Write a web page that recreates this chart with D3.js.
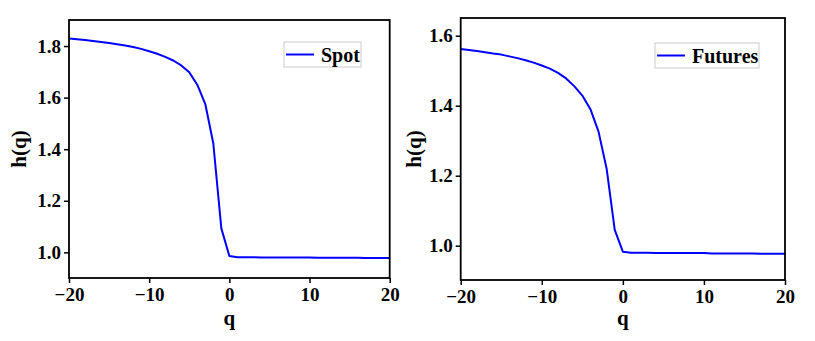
<!DOCTYPE html>
<html>
<head>
<meta charset="utf-8">
<script src="https://cdn.jsdelivr.net/npm/d3@7"></script>
<style>
  html, body { margin: 0; padding: 0; background: #fff; }
  svg { display: block; }
</style>
</head>
<body>
<svg id="chart" width="815" height="341"></svg>
<script>
// ---- data ----
const q = [-20,-19,-18,-17,-16,-15,-14,-13,-12,-11,-10,-9,-8,-7,-6,-5,-4,-3,-2,-1,0,1,2,3,4,5,6,7,8,9,10,11,12,13,14,15,16,17,18,19,20];
const spotH = [1.829,1.826,1.823,1.820,1.816,1.812,1.807,1.802,1.796,1.789,1.780,1.770,1.758,1.744,1.725,1.698,1.650,1.575,1.422,1.093,
  0.986,0.981,0.981,0.981,0.980,0.980,0.980,0.980,0.980,0.980,0.980,0.979,0.979,0.979,0.979,0.979,0.979,0.978,0.978,0.978,0.978];
const futuresH = [1.562,1.559,1.556,1.553,1.549,1.546,1.541,1.536,1.530,1.523,1.515,1.506,1.494,1.478,1.456,1.429,1.390,1.326,1.220,1.045,
  0.983,0.980,0.980,0.980,0.979,0.979,0.979,0.979,0.979,0.979,0.979,0.978,0.978,0.978,0.978,0.978,0.978,0.977,0.977,0.977,0.977];
const xTicks = [-20,-10,0,10,20];
const spotYTicks = [1.0,1.2,1.4,1.6,1.8];
const futuresYTicks = [1.0,1.2,1.4,1.6];
const seriesNames = ["Spot","Futures"];

const FONT = "Liberation Serif";
const svg = d3.select("#chart");

function styleText(sel, size) {
  sel.attr("font-family", FONT).attr("font-weight", "bold")
     .attr("font-size", size).attr("fill", "#000");
}

function panel(cfg) {
  const x = d3.scaleLinear().domain([-20,20]).range([cfg.x0, cfg.x1]);
  const y = d3.scaleLinear().domain(cfg.yDomain).range([cfg.y1, cfg.y0]);
  const g = svg.append("g");

  // x axis
  const xa = g.append("g").attr("transform", `translate(0,${cfg.y1})`)
    .call(d3.axisBottom(x).tickValues(xTicks).tickSize(5).tickPadding(5)
      .tickFormat(d => d < 0 ? "\u2212" + Math.abs(d) : String(d)));
  xa.attr("font-family", FONT).attr("font-size", 19).attr("font-weight", "bold");
  xa.select(".domain").remove();
  xa.selectAll("line").attr("stroke","#000").attr("stroke-width",1.5);
  styleText(xa.selectAll("text"), 19);

  // y axis
  const ya = g.append("g").attr("transform", `translate(${cfg.x0},0)`)
    .call(d3.axisLeft(y).tickValues(cfg.yTicks).tickSize(5).tickPadding(3).tickFormat(d3.format(".1f")));
  ya.attr("font-family", FONT).attr("font-size", 19).attr("font-weight", "bold");
  ya.select(".domain").remove();
  ya.selectAll("line").attr("stroke","#000").attr("stroke-width",1.5);
  styleText(ya.selectAll("text"), 19);

  // line
  const line = d3.line().x((d,i) => x(q[i])).y(d => y(d));
  g.append("path").datum(cfg.values)
    .attr("d", line).attr("fill","none").attr("stroke","#0000ff").attr("stroke-width",2)
    .attr("stroke-linejoin","round");

  // frame
  g.append("rect").attr("x", cfg.x0).attr("y", cfg.y0)
    .attr("width", cfg.x1 - cfg.x0).attr("height", cfg.y1 - cfg.y0)
    .attr("fill","none").attr("stroke","#000").attr("stroke-width",1.8);

  // axis labels
  styleText(g.append("text").attr("x", (cfg.x0 + cfg.x1)/2).attr("y", 325)
    .attr("text-anchor","middle").text("q"), 21);
  styleText(g.append("text").attr("transform", `translate(${cfg.ylabX},${(cfg.y0+cfg.y1)/2}) rotate(-90)`)
    .attr("text-anchor","middle").text("h(q)"), 21);

  // legend
  const L = cfg.legend;
  g.append("rect").attr("x", L.x).attr("y", L.y).attr("width", L.w).attr("height", L.h)
    .attr("fill","#fff").attr("stroke","#cccccc").attr("stroke-width",1);
  g.append("line").attr("x1", L.x + 2).attr("x2", L.x + 30)
    .attr("y1", L.y + L.h/2).attr("y2", L.y + L.h/2)
    .attr("stroke","#0000ff").attr("stroke-width",2);
  styleText(g.append("text").attr("x", L.x + 37).attr("y", L.y + L.h/2 + 7).text(cfg.name), 20);
}

panel({ x0: 69, x1: 389.7, y0: 20, y1: 278, yDomain: [0.9005, 1.901], yTicks: spotYTicks,
        values: spotH, name: seriesNames[0], ylabX: 26,
        legend: { x: 284, y: 42, w: 77, h: 25 } });
panel({ x0: 460.7, x1: 785, y0: 18, y1: 280, yDomain: [0.902, 1.6506], yTicks: futuresYTicks,
        values: futuresH, name: seriesNames[1], ylabX: 421,
        legend: { x: 655, y: 43, w: 104, h: 25 } });
</script>
</body>
</html>
